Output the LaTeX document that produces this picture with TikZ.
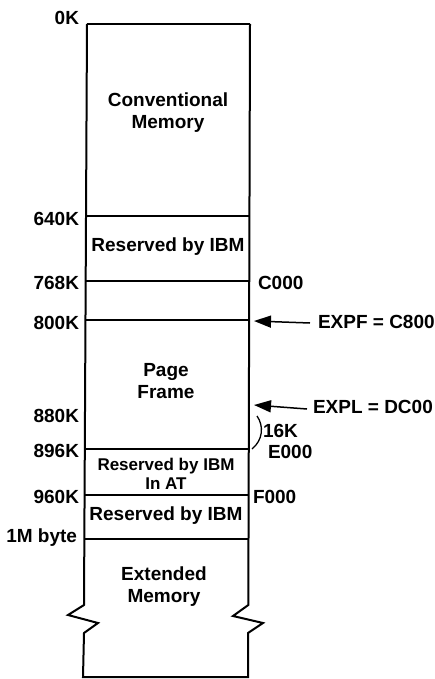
\documentclass[tikz,border=0pt]{standalone}
\usepackage{fontspec}
\setmainfont{Liberation Sans}
\usetikzlibrary{arrows.meta}
\begin{document}
\begin{tikzpicture}[x=1pt,y=-1pt,line width=2pt,
  txt/.style={font=\bfseries\fontsize{19}{22}\selectfont,inner sep=0pt,align=center},
  smalltxt/.style={font=\bfseries\fontsize{17}{19}\selectfont,inner sep=0pt,align=center},
  leftlbl/.style={txt,anchor=east},
  rightlbl/.style={txt,anchor=west},
  pointer/.style={line width=1.5pt,-{Triangle[length=17pt,width=12pt]}}]
\useasboundingbox (0,0) rectangle (435,679);
% box corners
\coordinate (tl) at (87,24);
\coordinate (tr) at (250,24);
\coordinate (l640) at (86.6,216); \coordinate (r640) at (249.7,216);
\coordinate (l768) at (86.4,281); \coordinate (r768) at (249.5,281);
\coordinate (l800) at (86.2,320); \coordinate (r800) at (249.4,320);
\coordinate (l896) at (85.5,449); \coordinate (r896) at (249,449);
\coordinate (l960) at (85.2,495); \coordinate (r960) at (248.8,495);
\coordinate (l1m) at (85,539); \coordinate (r1m) at (248.6,539);
\coordinate (lz) at (84,605); \coordinate (rz) at (248.3,605);
\coordinate (lb) at (83,677); \coordinate (rb) at (248,677);
% outline
\draw (tl) -- (tr);
\draw (tl) -- (lz) -- (68,615) -- (98,623) -- (84,633) -- (lb) -- (rb)
      -- (248,633) -- (263,623) -- (233,616) -- (rz) -- (tr);
\foreach \a/\b in {l640/r640,l768/r768,l800/r800,l896/r896,l960/r960,l1m/r1m}
  \draw (\a) -- (\b);
% left labels
\node[leftlbl] (k0) at (80,18) {0K};
\node[leftlbl] (k640) at (80,219) {640K};
\node[leftlbl] (k768) at (80,283) {768K};
\node[leftlbl] (k800) at (80,323) {800K};
\node[leftlbl] (k880) at (80,416) {880K};
\node[leftlbl] (k896) at (80,451) {896K};
\node[leftlbl] (k960) at (80,497) {960K};
\node[leftlbl] (k1m) at (78,538) {1M byte};
% region texts
\node[txt] (conv) at (168,113) {Conventional\\Memory};
\node[txt] (res1) at (168,247) {Reserved by IBM};
\node[txt] (page) at (166,381) {Page\\Frame};
\node[smalltxt] (res2) at (166,474) {Reserved by IBM\\In AT};
\node[txt] (res3) at (166,516) {Reserved by IBM};
\node[txt] (ext) at (164,587) {Extended\\Memory};
% right labels
\node[rightlbl] (c000) at (257,283) {C000};
\node[rightlbl] (expf) at (317,322) {EXPF = C800};
\node[rightlbl] (expl) at (312,407) {EXPL = DC00};
\node[rightlbl] (k16) at (262,431) {16K};
\node[rightlbl] (e000) at (267,452) {E000};
\node[rightlbl] (f000) at (252,497) {F000};
% pointers
\coordinate (pf) at (254,321);
\coordinate (pl) at (254,405);
\draw[pointer] ([xshift=-7pt,yshift=-1pt]expf.west) -- (pf);
\draw[pointer] ([xshift=-5pt,yshift=-2pt]expl.west) -- (pl);
% 16K bracket
\draw[line width=1.3pt] (257,416) .. controls (264,426) and (263,440) .. (252,449);
\end{tikzpicture}
\end{document}
